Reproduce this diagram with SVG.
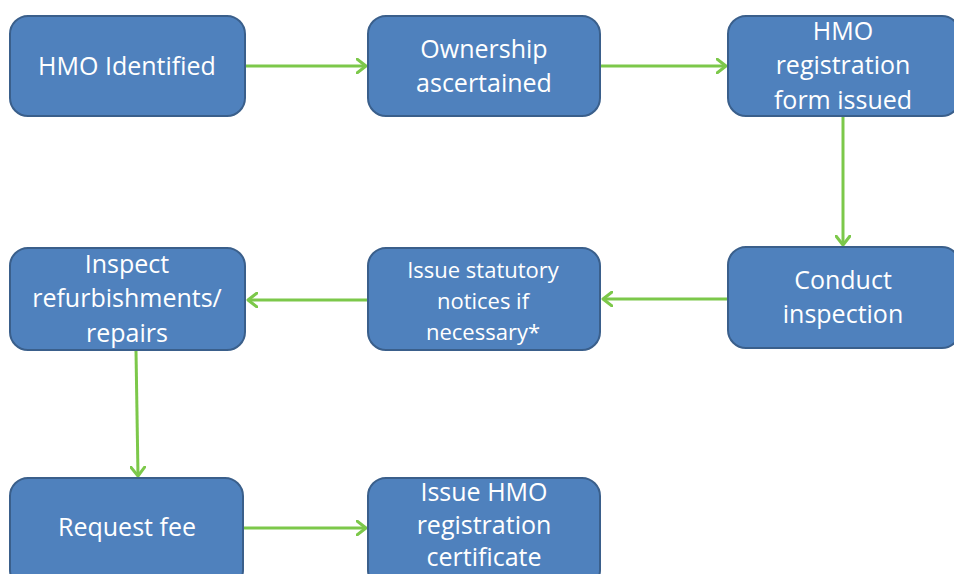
<svg xmlns="http://www.w3.org/2000/svg" width="954" height="574" viewBox="0 0 954 574">
<style>
.box{fill:#4f81bd;stroke:#3a5f8b;stroke-width:2}
.t{fill:#ffffff;font-family:"Open Sans","Liberation Sans",sans-serif;font-size:25px;text-anchor:middle}
.s{font-size:22px}
.c{stroke:#7cc84a;stroke-width:3;fill:none;marker-end:url(#ah)}
</style>
<defs>
<marker id="ah" markerWidth="14" markerHeight="16" refX="10" refY="8" orient="auto" markerUnits="userSpaceOnUse">
<path d="M1,1 L10,8 L1,15" fill="none" stroke="#7cc84a" stroke-width="3" stroke-linecap="round" stroke-linejoin="round"/>
</marker>
</defs>
<rect width="954" height="574" fill="#ffffff"/>
<g id="connectors">
<line class="c" x1="246" y1="66" x2="366" y2="66"/>
<line class="c" x1="601" y1="66" x2="726" y2="66"/>
<line class="c" x1="843" y1="117" x2="843" y2="245"/>
<line class="c" x1="727" y1="299" x2="603" y2="299"/>
<line class="c" x1="367" y1="300" x2="248" y2="300"/>
<line class="c" x1="136" y1="351" x2="138" y2="476"/>
<line class="c" x1="244" y1="528" x2="366" y2="528"/>
</g>
<g id="n1"><rect class="box" x="10" y="16" width="235" height="100" rx="18"/>
<text class="t" x="127" y="75">HMO Identified</text></g>
<g id="n2"><rect class="box" x="368" y="16" width="232" height="100" rx="18"/>
<text class="t" x="484" y="58">Ownership</text><text class="t" x="484" y="92">ascertained</text></g>
<g id="n3"><rect class="box" x="728" y="16" width="232" height="100" rx="18"/>
<text class="t" x="843" y="40">HMO</text><text class="t" x="843" y="74">registration</text><text class="t" x="843" y="109">form issued</text></g>
<g id="n4"><rect class="box" x="728" y="247" width="232" height="101" rx="18"/>
<text class="t" x="843" y="289">Conduct</text><text class="t" x="843" y="323">inspection</text></g>
<g id="n5"><rect class="box" x="368" y="248" width="232" height="102" rx="18"/>
<text class="t s" x="483" y="278">Issue statutory</text><text class="t s" x="483" y="309">notices if</text><text class="t s" x="483" y="340">necessary*</text></g>
<g id="n6"><rect class="box" x="10" y="248" width="235" height="102" rx="18"/>
<text class="t" x="127" y="273">Inspect</text><text class="t" x="127" y="307">refurbishments/</text><text class="t" x="127" y="342">repairs</text></g>
<g id="n7"><rect class="box" x="10" y="478" width="233" height="110" rx="18"/>
<text class="t" x="127" y="536">Request fee</text></g>
<g id="n8"><rect class="box" x="368" y="478" width="232" height="110" rx="18"/>
<text class="t" x="484" y="501">Issue HMO</text><text class="t" x="484" y="534">registration</text><text class="t" x="484" y="566">certificate</text></g>
</svg>
